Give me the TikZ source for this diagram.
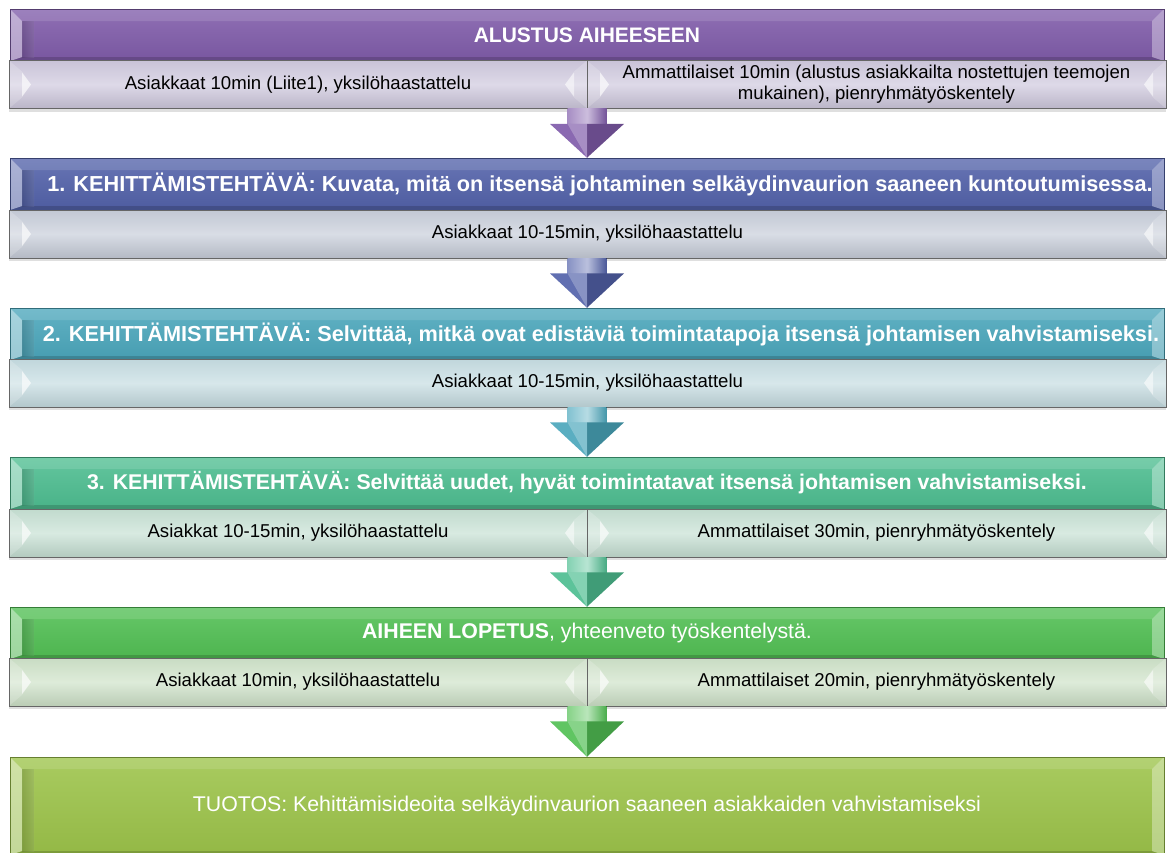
\documentclass[tikz,border=0pt]{standalone}
\usepackage{fontspec}
\setmainfont{Liberation Sans}
\usetikzlibrary{calc,shadows}

% header bar colours
\definecolor{hdrA}{HTML}{805CAA}
\definecolor{hdrB}{HTML}{5362AA}
\definecolor{hdrC}{HTML}{4BA7BC}
\definecolor{hdrD}{HTML}{4EBE91}
\definecolor{hdrE}{HTML}{52C054}
\definecolor{hdrF}{HTML}{9DC44A}
% sub row colours
\definecolor{subA}{HTML}{CFC9DE}
\definecolor{subB}{HTML}{C8CEDA}
\definecolor{subC}{HTML}{C6DDE2}
\definecolor{subD}{HTML}{C7E1D4}
\definecolor{subE}{HTML}{CFE3C9}

\tikzset{
  % bevelled header bar
  hdr/.style={draw=#1!65!black, line width=0.5pt,
    top color=#1!88!white, bottom color=#1!94!black,
    minimum width=1154pt, minimum height=52pt, inner sep=0pt,
    text=white, font=\fontsize{21.7}{24}\selectfont\bfseries,
    path picture={
      \coordinate (bnw) at (path picture bounding box.north west);
      \coordinate (bne) at (path picture bounding box.north east);
      \coordinate (bsw) at (path picture bounding box.south west);
      \coordinate (bse) at (path picture bounding box.south east);
      \fill[white,opacity=.12] (bnw) -- (bne) -- ([xshift=-12pt,yshift=-12pt]bne) -- ([xshift=12pt,yshift=-12pt]bnw) -- cycle;
      \fill[black,opacity=.16] (bsw) -- (bse) -- ([xshift=-12pt,yshift=4pt]bse) -- ([xshift=12pt,yshift=4pt]bsw) -- cycle;
      \fill[white,opacity=.45] (bnw) -- ([xshift=12pt,yshift=-12pt]bnw) -- ([xshift=12pt,yshift=4pt]bsw) -- (bsw) -- cycle;
      \fill[left color=black, right color=black!0, opacity=.08] ([xshift=12pt,yshift=-12pt]bnw) rectangle ([xshift=24pt,yshift=4pt]bsw);
      \fill[white,opacity=.35] (bne) -- ([xshift=-12pt,yshift=-12pt]bne) -- ([xshift=-12pt,yshift=4pt]bse) -- (bse) -- cycle;
    }},
  % sub row cell with pointed bevels at both ends
  subcell/.style={draw=black!60, line width=0.8pt,
    top color=#1!97!black, bottom color=#1!90!black, middle color=#1!70!white,
    minimum height=48pt, inner sep=0pt, text=black, align=center,
    font=\fontsize{18.6}{21}\selectfont,
    drop shadow={shadow xshift=0pt, shadow yshift=-3pt, opacity=.25},
    path picture={
      \coordinate (bw) at (path picture bounding box.west);
      \coordinate (be) at (path picture bounding box.east);
      \coordinate (bnw) at (path picture bounding box.north west);
      \coordinate (bsw) at (path picture bounding box.south west);
      \coordinate (bne) at (path picture bounding box.north east);
      \coordinate (bse) at (path picture bounding box.south east);
      \fill[white,opacity=.18] (bnw) -- ([xshift=13pt,yshift=-11pt]bnw) -- ([xshift=22pt]bw) -- ([xshift=13pt,yshift=11pt]bsw) -- (bsw) -- cycle;
      \fill[white,opacity=.18] (bne) -- ([xshift=-13pt,yshift=-11pt]bne) -- ([xshift=-22pt]be) -- ([xshift=-13pt,yshift=11pt]bse) -- (bse) -- cycle;
      \fill[white,opacity=.6] ([xshift=13pt,yshift=12pt]bw) -- ([xshift=22pt]bw) -- ([xshift=13pt,yshift=-12pt]bw) -- cycle;
      \fill[white,opacity=.5] ([xshift=-13pt,yshift=12pt]be) -- ([xshift=-22pt]be) -- ([xshift=-13pt,yshift=-12pt]be) -- cycle;
    }},
  subfull/.style={subcell=#1, minimum width=1157pt},
  subleft/.style={subcell=#1, minimum width=578pt},
  subright/.style={subcell=#1, minimum width=579pt},
}

% downward arrow from a sub row to the next header bar
\newcommand\flowarrow[3]{%
  \fill[left color=#3!70!white, right color=#3!90!black, middle color=#3!40!white]
    let \p1=(#2.north |- #1.south), \p2=(#2.north) in
    (\x1-19.5pt,\y1) rectangle (\x1+19.5pt,\y1-16pt);
  \fill[#3!92!white]
    let \p1=(#2.north |- #1.south), \p2=(#2.north) in
    (\x1-37pt,\y1-15pt) -- (\x1,\y1-15pt) -- (\x1,\y2) -- cycle;
  \fill[#3!82!black]
    let \p1=(#2.north |- #1.south), \p2=(#2.north) in
    (\x1,\y1-15pt) -- (\x1+37pt,\y1-15pt) -- (\x1,\y2) -- cycle;
  \fill[white,opacity=.25]
    let \p1=(#2.north |- #1.south), \p2=(#2.north) in
    (\x1-19.5pt,\y1-15pt) -- (\x1,\y1-15pt) -- (\x1,\y2) -- cycle;
}

\begin{document}
\begin{tikzpicture}[x=1pt,y=-1pt]
\useasboundingbox (0,0) rectangle (1168,852);

% start
\node[hdr=hdrA, font=\fontsize{21}{24}\selectfont\bfseries] (h1) at (587,35) {ALUSTUS AIHEESEEN};
\node[subleft=subA] (s1a) at (298,84.5) {Asiakkaat 10min (Liite1), yksilöhaastattelu};
\node[subright=subA] (s1b) at (876.5,84.5) {Ammattilaiset 10min (alustus asiakkailta nostettujen teemojen\\mukainen), pienryhmätyöskentely};

% task 1
\node[hdr=hdrB] (h2) at (587,184) {\hspace*{26pt}1. KEHITTÄMISTEHTÄVÄ: Kuvata, mitä on itsensä johtaminen selkäydinvaurion saaneen kuntoutumisessa.};
\node[subfull=subB] (s2) at (587.5,234) {Asiakkaat 10-15min, yksilöhaastattelu};

% task 2
\node[hdr=hdrC] (h3) at (587,334) {\hspace*{28pt}2. KEHITTÄMISTEHTÄVÄ: Selvittää, mitkä ovat edistäviä toimintatapoja itsensä johtamisen vahvistamiseksi.};
\node[subfull=subC] (s3) at (587.5,383) {Asiakkaat 10-15min, yksilöhaastattelu};

% task 3
\node[hdr=hdrD, font=\fontsize{21.3}{24}\selectfont\bfseries] (h4) at (587,483) {3. KEHITTÄMISTEHTÄVÄ: Selvittää uudet, hyvät toimintatavat itsensä johtamisen vahvistamiseksi.};
\node[subleft=subD] (s4a) at (298,533) {Asiakkat 10-15min, yksilöhaastattelu};
\node[subright=subD] (s4b) at (876.5,533) {Ammattilaiset 30min, pienryhmätyöskentely};

% closing
\node[hdr=hdrE, font=\fontsize{21.3}{24}\selectfont] (h5) at (587,633) {\textbf{AIHEEN LOPETUS}, yhteenveto työskentelystä.};
\node[subleft=subE] (s5a) at (298,682) {Asiakkaat 10min, yksilöhaastattelu};
\node[subright=subE] (s5b) at (876.5,682) {Ammattilaiset 20min, pienryhmätyöskentely};

% outcome
\node[hdr=hdrF, minimum height=98pt, font=\fontsize{21.3}{24}\selectfont] (h6) at (587,806) {TUOTOS: Kehittämisideoita selkäydinvaurion saaneen asiakkaiden vahvistamiseksi};

% arrows
\flowarrow{s1a}{h2}{hdrA}
\flowarrow{s2}{h3}{hdrB}
\flowarrow{s3}{h4}{hdrC}
\flowarrow{s4a}{h5}{hdrD}
\flowarrow{s5a}{h6}{hdrE}
\end{tikzpicture}
\end{document}
